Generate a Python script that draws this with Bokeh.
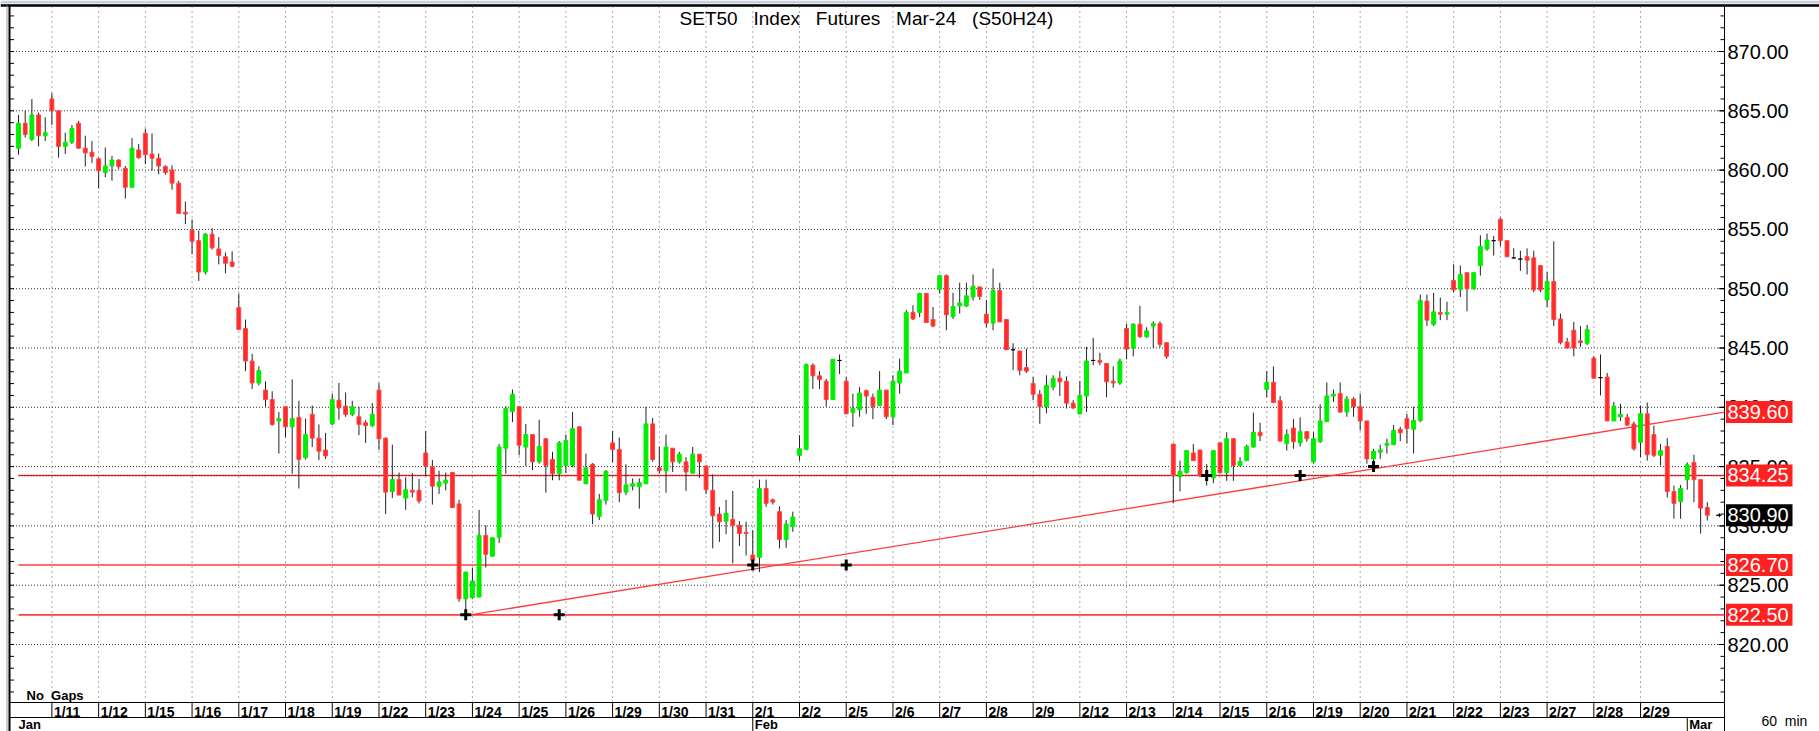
import numpy as np
from bokeh.plotting import figure
from bokeh.models import ColumnDataSource, Range1d
from bokeh.core.properties import value
from bokeh.embed import file_html
from bokeh.resources import INLINE

# ---------------- data ----------------
title_text = "SET50\u00a0\u00a0 Index\u00a0\u00a0 Futures\u00a0\u00a0 Mar-24\u00a0\u00a0 (S50H24)"
note_text = "No\u00a0 Gaps"
interval_text = "60\u00a0 min"
day_labels = ["1/11", "1/12", "1/15", "1/16", "1/17", "1/18", "1/19", "1/22", "1/23", "1/24",
              "1/25", "1/26", "1/29", "1/30", "1/31", "2/1", "2/2", "2/5", "2/6", "2/7",
              "2/8", "2/9", "2/12", "2/13", "2/14", "2/15", "2/16", "2/19", "2/20", "2/21",
              "2/22", "2/23", "2/27", "2/28", "2/29"]
month_labels = ["Jan", "Feb", "Mar"]
month_first_day = [None, 15, 35]      # day index where the month starts
bars_per_day = 7
lead_bars = 5                          # hourly bars of 1/10 still visible

open_ = [861.85, 863.95, 862.6, 864.65, 862.9,
         866.0, 865.0, 862.0, 862.35, 863.95, 861.85, 861.5,
         860.95, 859.8, 860.35, 860.85, 860.15, 858.55, 861.7,
         863.1, 861.35, 861.0, 860.3, 860.0, 858.9, 856.45,
         854.95, 854.05, 851.4, 854.6, 853.35, 852.7, 852.25,
         848.4, 846.65, 843.9, 842.05, 841.45, 840.65, 838.85,
         840.05, 838.35, 839.15, 835.75, 839.4, 837.4, 836.4,
         838.6, 840.6, 840.1, 839.4, 839.2, 838.7, 838.45,
         841.45, 837.4, 832.9, 833.9, 832.35, 833.0, 833.0,
         836.15, 835.0, 833.35, 833.6, 834.5, 831.85, 823.85,
         823.95, 824.0, 829.2, 827.45, 829.05, 836.55, 839.65,
         840.05, 836.65, 837.7, 835.4, 837.35, 835.6, 834.4,
         835.1, 835.1, 838.35, 833.55, 835.2, 830.8, 832.15,
         837.0, 836.45, 832.85, 833.35, 833.3, 833.55, 838.6,
         834.9, 834.65, 836.55, 835.4, 835.4, 834.45, 836.05,
         835.05, 833.0, 831.0, 830.4, 830.55, 830.05, 829.45,
         827.55, 827.35, 833.15, 832.2, 831.2, 828.85, 829.95,
         835.95, 836.45, 843.55, 842.65, 842.2, 840.65, 843.95,
         842.2, 839.55, 839.8, 841.4, 840.85, 840.15, 841.45,
         839.2, 842.05, 842.9, 848.0, 848.0, 849.6, 847.4,
         849.95, 851.1, 847.65, 848.55, 848.55, 849.3, 850.15,
         847.85, 847.1, 849.85, 847.4, 844.85, 844.75, 843.35,
         842.0, 841.1, 840.05, 841.7, 842.45, 842.2, 840.35,
         839.45, 840.95, 843.95, 843.95, 843.7, 842.2, 842.05,
         846.65, 845.0, 847.0, 845.95, 846.85, 847.05, 845.45,
         836.9, 834.15, 834.5, 836.15, 836.4, 834.25, 834.05,
         837.0, 834.5, 837.35, 835.1, 835.5, 836.65, 837.9,
         841.5, 842.1, 840.55, 836.95, 838.25, 837.0, 837.95,
         835.4, 837.1, 838.8, 840.95, 841.15, 839.6, 840.7,
         840.05, 838.85, 835.65, 836.2, 836.8, 836.85, 838.15,
         839.05, 838.15, 838.9, 848.95, 847.0, 848.0, 847.85,
         850.7, 849.95, 851.35, 850.0, 851.95, 853.35, 854.05,
         855.85, 854.05, 852.6, 852.5, 852.7, 852.6, 851.95,
         849.05, 850.6, 847.45, 845.5, 846.5, 845.6, 845.4,
         844.15, 842.5, 842.55, 838.85, 839.2, 839.15, 838.6,
         837.05, 839.45, 837.7, 835.95, 836.7, 832.9, 832.05,
         833.9, 835.35, 833.9, 831.55]

high = [864.65, 865.0, 866.0, 864.85, 864.45,
        866.5, 865.0, 863.15, 863.8, 864.15, 862.9, 862.45,
        861.05, 861.9, 861.2, 860.9, 860.35, 862.7, 862.2,
        863.5, 863.1, 861.4, 860.4, 860.4, 859.1, 857.35,
        855.85, 854.9, 854.7, 855.1, 854.35, 853.05, 853.15,
        849.6, 847.4, 844.5, 843.45, 842.2, 841.35, 839.6,
        840.05, 842.35, 840.55, 839.05, 840.15, 838.55, 837.85,
        841.15, 842.05, 841.25, 840.55, 840.05, 838.9, 840.35,
        842.05, 837.45, 836.85, 834.5, 834.1, 834.45, 833.95,
        838.0, 835.55, 834.65, 834.5, 834.55, 832.2, 826.15,
        826.45, 831.35, 830.05, 829.0, 836.9, 840.1, 841.5,
        840.05, 838.6, 837.7, 838.95, 837.35, 836.25, 837.15,
        837.7, 839.6, 838.4, 836.1, 835.3, 832.7, 834.7,
        838.0, 837.45, 835.2, 834.0, 834.0, 840.05, 839.1,
        836.65, 837.7, 836.55, 836.25, 835.8, 836.65, 836.05,
        835.1, 834.35, 831.6, 832.2, 832.95, 830.4, 830.35,
        829.65, 833.9, 833.9, 832.3, 831.65, 830.5, 831.2,
        837.65, 843.7, 843.7, 843.05, 842.4, 844.05, 844.45,
        842.55, 841.15, 841.7, 841.5, 841.15, 843.05, 841.45,
        842.7, 844.1, 848.2, 848.6, 849.65, 849.6, 848.45,
        851.1, 851.2, 849.65, 850.5, 850.5, 851.2, 850.15,
        849.05, 851.7, 850.5, 847.4, 845.4, 844.75, 844.95,
        842.55, 841.45, 842.7, 842.7, 843.05, 842.6, 840.6,
        842.2, 845.1, 845.85, 844.6, 843.7, 843.45, 844.1,
        847.05, 847.1, 848.55, 846.75, 847.25, 847.25, 845.45,
        836.9, 835.5, 836.35, 836.9, 836.4, 835.2, 836.35,
        837.0, 837.9, 837.35, 835.8, 836.85, 839.55, 838.7,
        843.05, 843.45, 840.95, 838.15, 839.0, 839.15, 837.95,
        837.9, 840.25, 842.1, 841.5, 842.1, 840.95, 840.85,
        841.15, 838.85, 836.5, 836.85, 837.35, 838.5, 838.35,
        839.45, 840.05, 849.5, 849.5, 849.65, 849.25, 848.9,
        852.05, 851.95, 851.35, 851.35, 854.5, 854.65, 854.45,
        856.0, 854.05, 853.4, 853.2, 853.4, 853.2, 851.95,
        851.4, 854.0, 847.9, 845.85, 847.2, 846.85, 846.95,
        844.3, 844.45, 842.9, 840.45, 840.3, 839.45, 838.8,
        840.15, 840.4, 838.45, 836.9, 837.4, 833.4, 833.45,
        835.35, 836.0, 833.9, 832.0]

low = [861.3, 862.75, 862.45, 862.0, 862.45,
       863.8, 861.05, 861.35, 862.2, 861.8, 860.3, 860.6,
       858.45, 859.4, 859.1, 860.1, 857.6, 858.55, 860.95,
       860.5, 859.95, 859.65, 859.6, 858.35, 856.3, 855.45,
       852.9, 850.65, 851.2, 853.3, 852.05, 851.3, 851.8,
       846.55, 843.05, 841.55, 841.85, 840.05, 838.45, 836.1,
       837.45, 834.4, 833.15, 835.6, 836.65, 835.55, 835.65,
       838.5, 838.95, 839.2, 839.25, 837.65, 837.0, 838.35,
       836.4, 831.0, 832.35, 832.6, 831.35, 832.4, 831.9,
       834.2, 831.8, 832.7, 833.0, 831.5, 823.6, 822.5,
       823.85, 824.0, 826.5, 827.4, 828.55, 834.4, 838.75,
       835.95, 835.05, 834.7, 835.25, 832.8, 833.85, 833.85,
       834.45, 834.95, 833.85, 833.55, 830.15, 830.5, 831.8,
       835.35, 832.0, 832.6, 833.0, 831.45, 833.55, 835.4,
       834.4, 832.8, 834.55, 835.25, 832.95, 834.4, 834.05,
       832.7, 828.1, 828.65, 829.3, 826.85, 828.3, 827.5,
       826.4, 826.1, 831.6, 831.8, 828.1, 828.15, 829.5,
       835.5, 836.4, 841.55, 841.55, 840.05, 840.65, 842.8,
       839.45, 838.35, 839.2, 839.45, 839.0, 840.1, 839.0,
       838.5, 841.15, 842.9, 847.35, 847.6, 847.15, 846.75,
       849.6, 846.5, 847.45, 847.9, 848.45, 849.0, 849.05,
       846.75, 846.5, 847.2, 844.85, 843.15, 842.7, 842.9,
       840.6, 838.6, 839.5, 841.45, 840.95, 839.9, 839.85,
       839.4, 839.6, 843.55, 843.55, 840.85, 841.65, 841.9,
       844.05, 844.3, 845.85, 845.85, 845.0, 845.05, 844.1,
       831.9, 832.9, 834.4, 835.5, 834.1, 833.4, 833.6,
       834.4, 833.8, 833.8, 835.0, 835.5, 836.6, 837.15,
       840.85, 840.4, 837.15, 836.35, 836.5, 836.7, 837.1,
       835.25, 837.0, 838.75, 840.45, 839.55, 839.2, 839.2,
       838.05, 835.25, 834.7, 835.65, 836.1, 836.85, 837.15,
       836.95, 836.1, 838.75, 846.85, 846.85, 847.35, 847.35,
       849.7, 849.3, 848.1, 849.9, 851.1, 853.2, 852.8,
       853.6, 852.65, 852.5, 851.5, 851.2, 849.7, 849.7,
       848.45, 846.85, 845.3, 844.95, 844.3, 845.1, 845.25,
       842.45, 841.0, 838.85, 838.85, 838.85, 838.45, 836.35,
       835.8, 835.5, 835.8, 835.1, 832.4, 830.6, 830.6,
       833.05, 832.0, 829.35, 830.45]

close = [863.95, 863.0, 864.65, 862.9, 863.15,
         865.0, 862.0, 862.35, 863.5, 861.85, 861.45, 861.15,
         859.95, 860.35, 860.85, 860.3, 858.55, 861.85, 861.05,
         861.3, 861.0, 860.35, 859.8, 858.9, 856.35, 856.3,
         854.0, 851.4, 854.6, 853.45, 852.8, 852.15, 851.9,
         846.55, 843.9, 842.05, 843.1, 840.65, 838.55, 839.05,
         838.35, 839.05, 835.6, 837.7, 837.4, 836.3, 835.9,
         840.65, 839.95, 839.4, 840.05, 838.55, 838.45, 839.4,
         837.35, 832.85, 833.9, 832.6, 833.05, 832.85, 832.1,
         835.05, 833.35, 833.7, 833.85, 831.55, 823.85, 826.1,
         825.35, 829.2, 827.6, 829.0, 836.65, 839.9, 841.1,
         836.8, 837.7, 835.4, 836.7, 835.1, 834.4, 837.0,
         837.2, 838.2, 833.85, 834.9, 831.0, 832.2, 834.6,
         836.45, 832.8, 833.45, 833.55, 833.65, 838.6, 835.6,
         834.65, 836.65, 835.4, 836.05, 834.55, 836.05, 835.4,
         833.05, 830.85, 830.35, 831.05, 830.05, 829.35, 829.35,
         827.1, 833.15, 831.9, 832.0, 828.85, 830.15, 830.75,
         836.5, 843.6, 842.65, 842.35, 840.65, 844.05, 843.95,
         839.45, 839.9, 841.2, 840.95, 840.05, 841.45, 839.2,
         842.2, 843.05, 848.0, 847.45, 849.6, 847.15, 846.85,
         851.1, 847.8, 848.5, 848.8, 849.4, 850.2, 849.35,
         847.1, 849.85, 847.2, 844.85, 844.85, 843.1, 843.05,
         841.1, 840.05, 841.85, 842.45, 842.15, 840.35, 839.95,
         841.0, 843.9, 843.95, 843.8, 842.15, 842.05, 843.9,
         844.9, 847.0, 845.95, 846.45, 847.05, 845.3, 844.3,
         834.25, 834.6, 836.35, 835.5, 834.25, 834.25, 836.35,
         834.5, 837.35, 835.1, 835.45, 836.7, 837.9, 837.6,
         842.1, 840.4, 837.15, 837.7, 837.1, 837.95, 837.35,
         837.35, 838.85, 840.95, 841.1, 839.6, 840.7, 840.05,
         838.85, 835.65, 836.3, 836.4, 836.95, 838.05, 837.85,
         838.2, 838.9, 849.0, 847.35, 848.05, 847.85, 848.0,
         849.9, 851.2, 850.0, 851.35, 853.55, 854.1, 854.05,
         854.05, 852.7, 852.6, 852.5, 852.4, 849.9, 849.9,
         850.6, 847.4, 845.45, 845.0, 845.0, 845.45, 846.55,
         842.45, 842.5, 838.85, 840.1, 839.4, 838.5, 836.5,
         839.45, 836.0, 835.95, 836.35, 832.9, 831.9, 833.15,
         835.15, 833.9, 831.5, 830.9]

level_lines = [834.25, 826.70, 822.50]
level_boxes = [839.60, 834.25, 826.70, 822.50]
last_price = 830.90
trend_start_bar = 62.7
trend_start_val = 822.50
trend_end_val = 839.60
pivot_bar = [62, 76, 105, 119, 173, 187, 198]
pivot_val = [822.50, 822.50, 826.70, 826.70, 834.25, 834.25, 835.00]
price_ticks = [820, 825, 830, 835, 840, 845, 850, 855, 860, 865, 870]
price_minor = list(range(816, 874))

# ---------------- layout constants (page pixels) ----------------
W, H = 1819, 731
PX_BAR = 6.675          # pixels per hourly bar
X_BAR0 = 51.4           # pixel x of first 1/11 bar
Y_870 = 51.0            # pixel y of 870.00
PX_PT = 11.86           # pixels per index point
AXIS_X = 1724           # right price axis line
LEFT_X = 9              # left frame border
TOP_Y = 5               # top frame border
ROW_TOP, ROW_MID, ROW_BOT = 702, 717, 731


def kx(px):
    return (px - X_BAR0) / PX_BAR


def vy(py):
    return 870.0 - (py - Y_870) / PX_PT


RED = "#FF2A2A"
GREEN = "#00EE00"
FONT = value("Liberation Sans")

p = figure(width=W, height=H, x_range=Range1d(kx(0), kx(W)), y_range=Range1d(vy(H), vy(0)),
           output_backend="svg", toolbar_location=None, x_axis_location=None,
           y_axis_location=None, min_border=0)
p.outline_line_color = None
p.background_fill_color = "white"
p.border_fill_color = "white"
p.grid.visible = False

xa, xb = kx(LEFT_X + 0.5), kx(AXIS_X)
y_plot_bottom, y_top = vy(ROW_TOP), vy(TOP_Y)

# window chrome strip and frame borders
p.segment(x0=[kx(0)], y0=[vy(1.5)], x1=[kx(W)], y1=[vy(1.5)], line_color="#C5CEDA", line_width=3)
p.segment(x0=[kx(0)], y0=[vy(TOP_Y)], x1=[kx(W)], y1=[vy(TOP_Y)], line_color="black", line_width=2.5)
p.segment(x0=[kx(6.5)], y0=[vy(TOP_Y)], x1=[kx(6.5)], y1=[vy(H)], line_color="#9A9A9A", line_width=1)
p.segment(x0=[kx(LEFT_X)], y0=[vy(TOP_Y)], x1=[kx(LEFT_X)], y1=[vy(H)], line_color="black", line_width=2)
p.segment(x0=[xb], y0=[vy(TOP_Y)], x1=[xb], y1=[vy(H)], line_color="black", line_width=1)

# grid
p.segment(x0=[xa] * len(price_ticks), y0=price_ticks, x1=[xb] * len(price_ticks), y1=price_ticks,
          line_color="#333333", line_dash="1 2", line_width=1)
n = len(open_)
xs = np.arange(-lead_bars, n - lead_bars)
bounds = [i * bars_per_day for i in range(len(day_labels))]
p.segment(x0=bounds, y0=[y_plot_bottom] * len(bounds), x1=bounds, y1=[y_top] * len(bounds),
          line_color="#555555", line_dash="1 4", line_width=1)

# axis ticks (left border and right axis)
mt = [v for v in price_minor if v > y_plot_bottom]
p.segment(x0=[xa] * len(mt), y0=mt, x1=[kx(LEFT_X + 4.5)] * len(mt), y1=mt, line_color="black", line_width=1)
p.segment(x0=[kx(AXIS_X - 4)] * len(mt), y0=mt, x1=[xb] * len(mt), y1=mt, line_color="black", line_width=1)
p.segment(x0=[kx(AXIS_X - 6)] * len(price_ticks), y0=price_ticks, x1=[xb] * len(price_ticks),
          y1=price_ticks, line_color="black", line_width=1)
p.text(x=[kx(AXIS_X + 3)] * len(price_ticks), y=price_ticks, text=[f"{v:.2f}" for v in price_ticks],
       text_font=FONT, text_font_size="20px", text_baseline="middle", text_align="left",
       text_color="black")

# level lines
xl = kx(18)
for lv in level_lines:
    p.segment(x0=[xl], y0=[lv], x1=[xb], y1=[lv], line_color=RED, line_width=1.6, line_alpha=0.9)
p.segment(x0=[xl], y0=[level_lines[0]], x1=[xb], y1=[level_lines[0]],
          line_color="#300000", line_width=1, line_dash="1 2")

# trend line
p.segment(x0=[trend_start_bar], y0=[trend_start_val], x1=[xb], y1=[trend_end_val],
          line_color="#FF3C3C", line_width=1.3)

# candles
o = np.array(open_); c = np.array(close); h = np.array(high); l = np.array(low)
fill = np.where(c > o, GREEN, np.where(c < o, RED, "black"))
edge = np.where(c > o, GREEN, np.where(c < o, "#FF4545", "black"))
src = ColumnDataSource(dict(x=xs, o=o, c=c, h=h, l=l, top=np.maximum(o, c),
                            bot=np.minimum(o, c), fill=fill, edge=edge))
p.segment(x0="x", y0="l", x1="x", y1="h", source=src, line_color="#222222", line_width=1)
p.vbar(x="x", width=0.58, top="top", bottom="bot", source=src,
       fill_color="fill", line_color="edge", line_width=1)

# pivot markers
p.scatter(x=pivot_bar, y=pivot_val, marker="cross", size=11, line_width=3, color="black")

# last price pointer
p.segment(x0=[n - lead_bars + 0.3], y0=[last_price], x1=[n - lead_bars + 1.1], y1=[last_price],
          line_color="black", line_width=1)
p.scatter(x=[n - lead_bars + 0.8], y=[last_price], marker="cross", size=4, line_width=1, color="black")

# title & notes
p.text(x=[kx(866)], y=[vy(17.5)], text=[title_text], text_font=FONT, text_font_size="19px",
       text_baseline="middle", text_align="center", text_color="black")
p.text(x=[kx(26)], y=[vy(694.5)], text=[note_text], text_font=FONT, text_font_style="bold",
       text_font_size="13px", text_baseline="middle", text_align="left", text_color="black")

# date row
for ry in (ROW_TOP, ROW_MID):
    p.segment(x0=[kx(LEFT_X)], y0=[vy(ry)], x1=[xb], y1=[vy(ry)], line_color="black", line_width=1)
p.segment(x0=bounds, y0=[vy(ROW_TOP)] * len(bounds), x1=bounds, y1=[vy(ROW_MID)] * len(bounds),
          line_color="black", line_width=1)
p.text(x=[b + 2 / PX_BAR for b in bounds], y=[vy(711)] * len(bounds), text=day_labels,
       text_font=FONT, text_font_style="bold", text_font_size="14px", text_baseline="middle",
       text_align="left", text_color="black")

# month row
mx = []
for d in month_first_day:
    if d is None:
        mx.append(kx(18))
    else:
        b = d * bars_per_day
        p.segment(x0=[b], y0=[vy(ROW_MID)], x1=[b], y1=[vy(ROW_BOT)], line_color="black", line_width=1)
        mx.append(b + 2 / PX_BAR)
p.text(x=mx, y=[vy(723.5)] * len(mx), text=month_labels, text_font=FONT, text_font_style="bold",
       text_font_size="13px", text_baseline="middle", text_align="left", text_color="black")

# price boxes on the axis
bl, br = kx(AXIS_X + 1.5), kx(1792)
half = 11 / PX_PT
p.quad(left=[bl] * len(level_boxes), right=[br] * len(level_boxes),
       top=[v + half for v in level_boxes], bottom=[v - half for v in level_boxes],
       fill_color="#FF2020", line_color=None)
p.text(x=[kx(AXIS_X + 3)] * len(level_boxes), y=level_boxes, text=[f"{v:.2f}" for v in level_boxes],
       text_font=FONT, text_font_size="20px", text_baseline="middle", text_align="left",
       text_color="white")
p.quad(left=[bl], right=[br], top=[last_price + half], bottom=[last_price - half],
       fill_color="black", line_color=None)
p.text(x=[kx(AXIS_X + 3)], y=[last_price], text=[f"{last_price:.2f}"], text_font=FONT,
       text_font_size="20px", text_baseline="middle", text_align="left", text_color="white")
p.text(x=[kx(1761)], y=[vy(720)], text=[interval_text], text_font=FONT, text_font_size="14px",
       text_baseline="middle", text_align="left", text_color="black")

open("out.html", "w").write(file_html(p, INLINE))
